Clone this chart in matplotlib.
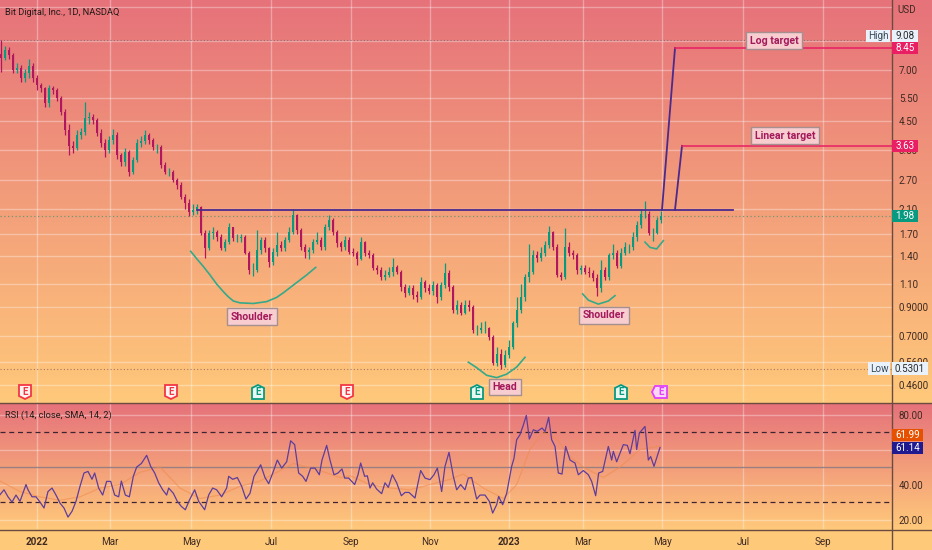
import numpy as np
import matplotlib
matplotlib.use("Agg")
import matplotlib.pyplot as plt
from matplotlib.patches import Rectangle, Polygon
from matplotlib.lines import Line2D
from matplotlib.ticker import NullLocator
from matplotlib.transforms import IdentityTransform

plt.rcParams['font.family'] = ['Roboto', 'DejaVu Sans']

# ---- data: one candle for every two sessions; time unit = 1/5.64 session
closes = [7.77,8.32,7.97,7.00,7.12,6.53,6.82,7.25,6.53,6.16,
          5.98,5.26,5.98,5.89,5.50,4.87,4.17,3.64,3.57,3.99,
          4.09,4.62,4.66,4.54,4.06,3.72,3.50,3.82,3.99,3.35,
          3.15,3.44,2.90,3.21,3.72,3.78,3.99,3.82,3.60,3.60,
          3.07,2.90,2.90,2.70,2.59,2.33,2.21,2.05,2.08,2.14,
          1.71,1.50,1.71,1.72,1.65,1.50,1.58,1.80,1.64,1.64,
          1.65,1.44,1.24,1.24,1.47,1.61,1.50,1.33,1.45,1.54,
          1.50,1.61,1.72,2.00,1.75,1.51,1.45,1.47,1.58,1.61,
          1.51,1.80,1.91,1.72,1.57,1.51,1.61,1.45,1.44,1.37,
          1.58,1.44,1.41,1.26,1.24,1.17,1.19,1.22,1.27,1.22,
          1.07,1.02,1.06,1.00,0.98,1.12,1.06,1.04,1.09,0.98,
          1.09,1.21,1.07,0.88,0.92,0.86,0.92,0.90,0.74,0.74,
          0.75,0.755,0.695,0.555,0.60,0.545,0.595,0.64,0.785,0.877,
          0.98,1.17,1.225,1.41,1.38,1.44,1.54,1.72,1.51,1.19,
          1.17,1.51,1.44,1.41,1.24,1.26,1.225,1.21,1.16,1.06,
          1.24,1.17,1.41,1.44,1.29,1.44,1.51,1.51,1.65,1.83,
          2.02,2.02,1.71,1.71,1.91,1.98]
opens = [8.00,7.77,8.32,7.97,7.00,7.12,6.53,6.82,7.25,6.53,
         6.16,5.98,5.26,5.98,5.89,5.50,4.87,4.17,3.64,3.57,
         3.99,4.09,4.62,4.66,4.54,4.06,3.72,3.50,3.82,3.99,
         3.35,3.15,3.44,2.90,3.21,3.72,3.78,3.99,3.82,3.60,
         3.60,3.07,2.90,2.90,2.70,2.59,2.33,2.21,2.05,2.08,
         2.14,1.71,1.50,1.71,1.72,1.65,1.50,1.58,1.80,1.64,
         1.64,1.65,1.44,1.24,1.24,1.47,1.61,1.50,1.33,1.45,
         1.54,1.50,1.61,1.72,2.00,1.75,1.51,1.45,1.47,1.58,
         1.61,1.51,1.80,1.91,1.72,1.57,1.51,1.61,1.45,1.44,
         1.37,1.58,1.44,1.41,1.26,1.24,1.17,1.19,1.22,1.27,
         1.22,1.07,1.02,1.06,1.00,0.98,1.12,1.06,1.04,1.09,
         0.98,1.09,1.21,1.07,0.88,0.92,0.86,0.92,0.90,0.74,
         0.74,0.75,0.755,0.695,0.555,0.60,0.545,0.595,0.64,0.785,
         0.877,0.98,1.17,1.225,1.41,1.38,1.44,1.54,1.72,1.51,
         1.19,1.17,1.51,1.44,1.41,1.24,1.26,1.225,1.21,1.16,
         1.06,1.24,1.17,1.41,1.44,1.29,1.44,1.51,1.51,1.65,
         1.83,2.02,2.02,1.71,1.71,1.91]
highs = [9.08,8.6,8.5,8.1,7.4,7.3,7.05,7.7,7.4,6.7,
         6.25,6.05,6.15,6.1,6.0,5.6,5.0,4.4,3.8,4.15,
         4.25,5.3,4.85,4.8,4.6,4.2,3.85,3.95,4.2,4.1,
         3.4,3.55,3.5,3.3,3.85,3.95,4.15,4.05,3.9,3.7,
         3.65,3.15,3.0,2.95,2.75,2.65,2.4,2.3,2.2,2.2,
         2.16,1.75,1.76,1.8,1.76,1.7,1.62,1.86,1.8,1.7,
         1.7,1.68,1.46,1.32,1.75,1.65,1.65,1.52,1.5,1.72,
         1.6,1.65,1.8,2.1,2.02,1.78,1.56,1.52,1.62,1.72,
         1.65,1.85,2.0,1.95,1.75,1.6,1.66,1.65,1.5,1.46,
         1.65,1.6,1.48,1.44,1.3,1.27,1.24,1.27,1.38,1.3,
         1.24,1.1,1.09,1.09,1.04,1.17,1.14,1.1,1.13,1.11,
         1.12,1.32,1.24,1.09,0.96,0.94,0.96,0.96,0.92,0.77,
         0.79,0.8,0.76,0.71,0.64,0.63,0.62,0.68,0.8,0.98,
         1.1,1.2,1.55,1.48,1.46,1.52,1.6,1.82,1.74,1.55,
         1.22,1.78,1.58,1.47,1.44,1.3,1.3,1.27,1.24,1.2,
         1.35,1.27,1.44,1.55,1.48,1.5,1.58,1.56,1.72,1.9,
         2.1,2.26,2.06,1.78,1.96,2.06]
lows = [6.9,7.6,7.7,6.8,6.8,6.3,6.3,6.5,6.3,5.9,
        5.8,5.1,5.1,5.7,5.35,4.75,4.0,3.35,3.4,3.5,
        3.85,4.0,4.4,4.4,3.95,3.6,3.3,3.4,3.7,3.25,
        3.05,3.05,2.8,2.85,3.15,3.6,3.7,3.7,3.5,3.4,
        3.0,2.85,2.8,2.65,2.5,2.3,2.1,1.98,2.0,2.02,
        1.68,1.38,1.48,1.62,1.6,1.48,1.46,1.55,1.6,1.58,
        1.58,1.42,1.2,1.18,1.22,1.42,1.45,1.28,1.3,1.4,
        1.46,1.46,1.58,1.7,1.7,1.48,1.38,1.36,1.44,1.55,
        1.48,1.48,1.76,1.68,1.52,1.46,1.48,1.42,1.4,1.3,
        1.35,1.4,1.38,1.24,1.2,1.14,1.14,1.17,1.18,1.2,
        1.04,0.98,1.0,0.97,0.94,0.97,1.03,1.01,1.0,0.93,
        0.96,1.06,1.04,0.86,0.85,0.84,0.85,0.87,0.72,0.71,
        0.72,0.72,0.68,0.545,0.54,0.53,0.535,0.58,0.63,0.76,
        0.86,0.95,1.12,1.2,1.33,1.34,1.4,1.5,1.48,1.17,
        1.14,1.15,1.4,1.36,1.2,1.2,1.2,1.17,1.13,0.99,
        1.03,1.14,1.14,1.36,1.26,1.26,1.41,1.44,1.47,1.6,
        1.78,1.95,1.68,1.6,1.69,1.86]

rsi_t_a = [0,12,24,36,48,60,78,84,96,108,120,132,144,156,168,180,192,204,216,228,240,252,264,276,284,296,308,320,332,344,356,364,376,388,400,410,424,440,452,464,476,488,500,506,520,532,544,556,568,584,596,614,626,638,650,665,680,686,698,712,725,738,750,762,782,795,806,820,832,845,860,872,884,896,908,918,932,945,958,966,980]
rsi_a = [34.2,37,33,30,34,30.4,40,37,33,33,30,26.6,36,38,34,29.4,26.6,21.4,24.7,30.4,39,46.6,47.5,43,46.6,38,34,41.8,41.8,34,33,42,34,33,44.7,50,52,56.7,50.4,46.6,41,37,34,38,35,30.4,27.5,25.6,31,37,30.4,25.6,34,38,37,33,38,44.7,43,44,39,31.7,35,44.7,51.3,44,40.5,47.5,54,49.4,53,65,62.8,46.6,44.7,41.8,49.4,49.4,45.6,54,62.4]
rsi_t_b = [0,12,24,36,44,56,74,84,92,104,112,120,128,140,155,165,175,187,200,214,225,237,255,262,272,285,300,312,322,335,345,357,370,380,392,405,415,425,440,450,465,478,488,500,506,518,530,545,552,560,570,580,589,598,610,622,636,645,656,665,675,685,696,707,720,735,745,760,775,785,797,806,818,835,845,850,860,880,892,900,915,920,928,945,955,962,972,990]
rsi_b = [54,45.6,46.6,48.9,43.7,43.7,40,45.6,52.3,44.7,45,38,41,37.4,34.8,41,38.4,45.6,41,33.6,35.5,35.5,32.3,39,48,43.7,42.8,45.6,49.4,36,50.4,58.4,44.7,37,40,37,43.7,44,31.7,34,34,30.4,23.7,28.5,33.2,28.5,35,50.4,55,65.6,68.5,74,79.5,66,71.3,70.4,72.3,70.4,78.4,65.6,61.8,46.6,46,61.8,54,52.3,45.6,48,45.6,41.8,33.6,46.6,47.5,61.8,54,59,53,62.8,62.4,57.6,71,60,69.4,73.2,54,56,50.4,61.14]
sma_t = [0,60,120,180,240,300,360,420,480,540,600,660,720,780,840,880,960,1020,1050,1110,1170,1230,1290,1350,1390,1450,1510,1550,1590,1630,1670,1710,1750,1810,1860,1920,1980]
sma_v = [42,36,33,31,33,38,40,47,50,38,32,34,39,42,48,52,48,44,45,40,38,37,40,43,46,38,32,40,60,70,66,56,50,44,50,60,61.99]

price_ticks = [12.0,9.0,7.0,5.5,4.5,3.5,2.7,2.1,1.7,1.4,1.1,0.9,0.7,0.56,0.46]
price_labels = ['','','7.00','5.50','4.50','3.50','2.70','2.10','1.70','1.40','1.10','0.9000','0.7000','0.5600','0.4600']
rsi_ticks = [20,40,60,80]
rsi_labels = ['20.00','40.00','','80.00']
month_labels = ['2022','Mar','May','Jul','Sep','Nov','2023','Mar','May','Jul','Sep']
month_t = [111,330,573,813,1053,1290,1527,1749,1986,2229,2469]

neck_t = [591,2199]; neck_p = [2.09,2.09]
log_t = [1986,2025]; log_p = [2.09,8.45]
log_target_t = [2025,2676]; log_target_p = [8.45,8.45]
lin_t = [2025,2046]; lin_p = [2.09,3.63]
lin_target_t = [2046,2676]; lin_target_p = [3.63,3.63]

sh1_t = [572,590,610,630,650,670,685,700,720,760,800,830,850,880,920,947]
sh1_p = [1.46,1.37,1.28,1.19,1.10,1.03,0.985,0.95,0.935,0.93,0.945,0.98,1.02,1.09,1.19,1.27]
head_t = [1405,1430,1460,1490,1520,1550,1575]
head_p = [0.56,0.534,0.50,0.49,0.505,0.537,0.584]
sh2_t = [1748,1765,1795,1825,1845]
sh2_p = [1.01,0.957,0.925,0.95,0.995]
sh3_t = [1935,1950,1970,1990]
sh3_p = [1.58,1.51,1.49,1.60]

earn_t = [75,513,774,1041,1431,1863,1983]
earn_kind = ['past','past','beat','past','beat','beat','next']

UP, DOWN = '#089981', '#b0175e'
TOP, BOT = np.array([0xE6,0x72,0x7B])/255, np.array([0xFF,0xC9,0x7A])/255
TXT = '#3f2a22'
FS = 7.1
W, H = 932, 550

fig = plt.figure(figsize=(W/100, H/100), dpi=100)

# background gradient
grad = np.zeros((H, 1, 3))
for y in range(H):
    if y < 403:
        f = y/402
    elif y < 530:
        f = (y-403)/126
    else:
        f = 1
    grad[y, 0] = TOP*(1-f)+BOT*f
bg = fig.add_axes([0, 0, 1, 1], zorder=-5)
bg.imshow(grad, aspect='auto', extent=(0, W, H, 0))
bg.axis('off')

def box(l, t, r, b):
    return [l/W, 1-b/H, (r-l)/W, (b-t)/H]

ax = fig.add_axes(box(0, 0, 892, 402)); ax.patch.set_alpha(0)
ar = fig.add_axes(box(0, 403, 892, 529)); ar.patch.set_alpha(0)

XMAX = 892*3
for a in (ax, ar):
    a.set_xlim(0, XMAX)
    a.set_xticks(month_t)
    a.grid(True, color='white', alpha=0.33, lw=1)
    a.set_axisbelow(True)
    for s in a.spines.values():
        s.set_visible(False)
    a.tick_params(length=0)

ax.set_yscale('log')
ax.set_ylim(0.397, 12.8)
ax.yaxis.set_minor_locator(NullLocator())
ax.set_yticks(price_ticks); ax.set_yticklabels(price_labels)
ax.yaxis.tick_right()
ax.tick_params(axis='y', labelsize=FS, labelcolor=TXT, pad=5)
ax.tick_params(axis='x', labelbottom=False)

# candles
t = 3 + 12*np.arange(len(closes))
o, c, hi, lo = map(np.array, (opens, closes, highs, lows))
col = np.where(c >= o, UP, DOWN)
ax.vlines(t, lo, hi, colors=col, lw=0.9, zorder=3)
ax.bar(t, np.abs(c-o), bottom=np.minimum(o, c), width=8.5, color=col, lw=0, zorder=4)

# price level lines
ax.axhline(9.08, color='#8d6f6f', lw=0.8, ls=(0, (1, 2)), zorder=2)
ax.axhline(1.98, color='#6f9a70', lw=0.9, ls=(0, (1, 2)), zorder=2)
ax.axhline(0.5301, color='#a9785a', lw=0.8, ls=(0, (1, 2)), zorder=2)

PURPLE, RED, TEAL = '#4b2a8c', '#e91e63', '#35a98a'
ax.plot(neck_t, neck_p, color=PURPLE, lw=1.3, zorder=5)
ax.plot(log_t, log_p, color=PURPLE, lw=1.3, zorder=5)
ax.plot(lin_t, lin_p, color=PURPLE, lw=1.3, zorder=5)
ax.plot(log_target_t, log_target_p, color=RED, lw=1.1, zorder=5)
ax.plot(lin_target_t, lin_target_p, color=RED, lw=1.1, zorder=5)
for xs, ys in ((sh1_t, sh1_p), (head_t, head_p), (sh2_t, sh2_p), (sh3_t, sh3_p)):
    ax.plot(xs, ys, color=TEAL, lw=1.2, zorder=5, solid_joinstyle='round')

def note(px, price, s):
    ax.text(px*3, price, s, ha='center', va='center', color='#a3195b', fontsize=7.6,
            fontweight='bold', zorder=6,
            bbox=dict(boxstyle='square,pad=0.32', fc='#f8cdd0', ec='#a58f8f', lw=1))
note(252, 0.83, 'Shoulder')
note(604, 0.84, 'Shoulder')
note(505, 0.452, 'Head')
note(774, 9.0, 'Log target')
note(785, 3.96, 'Linear target')

# RSI
ar.set_ylim(14.6, 86.6)
ar.set_yticks(rsi_ticks); ar.set_yticklabels(rsi_labels)
ar.yaxis.tick_right()
ar.tick_params(axis='y', labelsize=FS, labelcolor=TXT, pad=5)
ar.set_xticklabels(month_labels, fontsize=FS, color=TXT)
ar.tick_params(axis='x', pad=6)
for lab, s in zip(ar.get_xticklabels(), month_labels):
    if s.isdigit():
        lab.set_fontweight('bold')
ar.axhline(50, color='#9a8080', lw=1, zorder=2)
for lv in (70, 30):
    ar.axhline(lv, color='#3c2430', lw=0.9, ls=(0, (4, 3)), zorder=2)
ar.plot(sma_t, sma_v, color='#ef8a4e', lw=0.9, alpha=0.55, zorder=3)
ar.plot(rsi_t_a + [990+v for v in rsi_t_b], rsi_a + rsi_b, color='#5e3d9c', lw=0.9, zorder=4)

fig.canvas.draw()
ID = IdentityTransform()

def fline(x0, y0, x1, y1, col='#6b4a3f', lw=1.0, z=6):
    fig.add_artist(Line2D([x0, x1], [H-y0, H-y1], color=col, lw=lw, transform=ID, zorder=z))
fline(0, 402.5, W, 402.5)
fline(0, 529.5, W, 529.5)
fline(891.5, 0, 891.5, H)

def ftext(x, y, s, color=TXT, size=FS, ha='left', weight='normal', z=9):
    fig.text(x, H-y, s, color=color, fontsize=size, ha=ha, va='center', fontweight=weight,
             transform=ID, zorder=z)

def tag(x0, x1, yc, s, fc, tc='white', h=12.5):
    fig.add_artist(Rectangle((x0, H-yc-h/2), x1-x0, h, fc=fc, ec='none', transform=ID, zorder=8))
    ftext((x0+x1)/2, yc, s, color=tc, ha='center')

def py(price):
    return H - ax.transData.transform((0, price))[1]

ftext(5, 12.5, 'Bit Digital, Inc., 1D, NASDAQ', color='#241a18', size=6.7)
ftext(5, 415.5, 'RSI (14, close, SMA, 14, 2)', color='#241a18', size=6.7)
ftext(897, 10, 'USD', color=TXT)

tag(866, 890, 36, 'High', '#e9f2fb', '#3a4a5a')
tag(892, 918, 36, '9.08', '#e9f2fb', '#2a2a2a')
tag(892, 918, py(8.45), '8.45', RED)
tag(892, 918, py(3.63), '3.63', RED)
tag(892, 918, py(1.98), '1.98', UP)
tag(868, 890, py(0.5301), 'Low', '#e9f2fb', '#3a4a5a')
tag(892, 928, py(0.5301), '0.5301', '#e9f2fb', '#2a2a2a')
tag(892, 923, 435, '61.99', '#e65100')
tag(892, 923, 448, '61.14', '#1f1a8f')

# earnings badges
for et, kind in zip(earn_t, earn_kind):
    xc = et/3
    y0 = 392
    w, hh = 6, 7
    if kind == 'past':
        pts = [(-w, -hh), (w, -hh), (w, hh-3), (0, hh), (-w, hh-3)]
        ec, fc = '#f23645', '#fff4f2'
    elif kind == 'beat':
        pts = [(-w, hh), (w, hh), (w, -hh+3), (0, -hh), (-w, -hh+3)]
        ec, fc = '#089981', '#e8f8f0'
    else:
        pts = [(-w, -hh+1), (w, -hh+1), (w, hh-1), (-w, hh-1), (-w-3, 0)]
        ec, fc = '#e040fb', '#fbd6f6'
    verts = [(xc+a, H-y0-b) for a, b in pts]
    fig.add_artist(Polygon(verts, closed=True, fc=fc, ec=ec, lw=1.3, transform=ID, zorder=7))
    ftext(xc, y0, 'E', color=ec, ha='center', size=7.0, weight='bold')

fig.savefig('out.png', dpi=100)
